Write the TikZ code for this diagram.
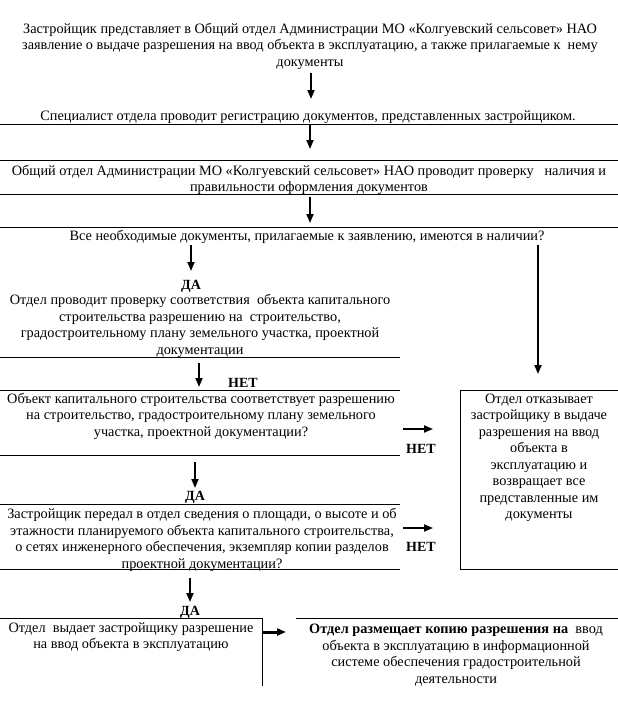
\documentclass[tikz,border=0pt]{standalone}
\usepackage{fontspec}
\setmainfont{Liberation Serif}
\usetikzlibrary{arrows.meta}
\begin{document}
\begin{tikzpicture}[x=1pt,y=-1pt,
  txt/.style={align=center,inner sep=0pt,font=\fontsize{14.3}{16.5}\selectfont},
  lbl/.style={inner sep=0pt,font=\fontsize{14}{16}\selectfont\bfseries},
  rule/.style={line width=1pt},
  arr/.style={line width=1.8pt,-{Triangle[length=9pt,width=7pt]}}]
\useasboundingbox (0,0) rectangle (618,718);
\fill[white] (0,0) rectangle (618,718);

% texts
\node[txt] (t1) at (310,46) {Застройщик представляет в Общий отдел Администрации МО «Колгуевский сельсовет» НАО\\
заявление о выдаче разрешения на ввод объекта в эксплуатацию, а также прилагаемые к~ нему\\
документы};
\node[txt] (t2) at (308,117) {Специалист отдела проводит регистрацию документов, представленных застройщиком.};
\node[txt] (t3) at (309,180) {Общий отдел Администрации МО «Колгуевский сельсовет» НАО проводит проверку~ ~наличия и\\
правильности оформления документов};
\node[txt] (t4) at (307,237) {Все необходимые документы, прилагаемые к заявлению, имеются в наличии?};
\node[lbl] (da1) at (191,286) {ДА};
\node[txt] (t5) at (200,326) {Отдел проводит проверку соответствия~ объекта капитального\\
строительства разрешению на~ строительство,\\
градостроительному плану земельного участка, проектной\\
документации};
\node[lbl] (net1) at (243,383) {НЕТ};
\node[txt] (t6) at (201,416) {Объект капитального строительства соответствует разрешению\\
на строительство, градостроительному плану земельного\\
участка, проектной документации?};
\node[lbl] (net2) at (421,449) {НЕТ};
\node[txt] (t7) at (539,458) {Отдел отказывает\\
застройщику в выдаче\\
разрешения на ввод\\
объекта в\\
эксплуатацию и\\
возвращает все\\
представленные им\\
документы};
\node[lbl] (da2) at (195,497) {ДА};
\node[txt] (t8) at (202,540) {Застройщик передал в отдел сведения о площади, о высоте и об\\
этажности планируемого объекта капитального строительства,\\
о сетях инженерного обеспечения, экземпляр копии разделов\\
проектной документации?};
\node[lbl] (net3) at (421,547) {НЕТ};
\node[lbl] (da3) at (190,612) {ДА};
\node[txt] (t9) at (131,637) {Отдел~ выдает застройщику разрешение\\
на ввод объекта в эксплуатацию};
\node[txt] (t10) at (456,655) {\textbf{Отдел размещает копию разрешения на}~ ввод\\
объекта в эксплуатацию в информационной\\
системе обеспечения градостроительной\\
деятельности};

% rules and box outlines
\draw[rule] (0,124) -- (618,124);
\draw[rule] (0,160) -- (618,160);
\draw[rule] (0,194) -- (618,194);
\draw[rule] (0,227) -- (618,227);
\draw[rule] (0,357) -- (400,357);
\draw[rule] (0,390.5) -- (400,390.5);
\draw[rule] (0,455) -- (400,455);
\draw[rule] (0,504) -- (400,504);
\draw[rule] (0,569) -- (400,569);
\draw[rule] (620,390.5) -- (460.5,390.5) -- (460.5,569) -- (620,569);
\draw[rule] (0,618) -- (262,618) -- (262,686);
\draw[rule] (296,618) -- (618,618);

% connector end points
\coordinate (a1s) at (311,73);  \coordinate (a1e) at (311,99);
\coordinate (a2s) at (310,125); \coordinate (a2e) at (310,149);
\coordinate (a3s) at (310,197); \coordinate (a3e) at (310,223);
\coordinate (a4s) at (191,245); \coordinate (a4e) at (191,271);
\coordinate (a5s) at (538,245); \coordinate (a5e) at (538,374);
\coordinate (a6s) at (199,363); \coordinate (a6e) at (199,387);
\coordinate (a7s) at (403,429); \coordinate (a7e) at (433,429);
\coordinate (a8s) at (195,462); \coordinate (a8e) at (195,488);
\coordinate (a9s) at (403,528); \coordinate (a9e) at (433,528);
\coordinate (a10s) at (190,578); \coordinate (a10e) at (190,602);
\coordinate (a11s) at (263,632); \coordinate (a11e) at (286,632);

\draw[arr] (a1s) -- (a1e);
\draw[arr] (a2s) -- (a2e);
\draw[arr] (a3s) -- (a3e);
\draw[arr] (a4s) -- (a4e);
\draw[arr] (a5s) -- (a5e);
\draw[arr] (a6s) -- (a6e);
\draw[arr] (a7s) -- (a7e);
\draw[arr] (a8s) -- (a8e);
\draw[arr] (a9s) -- (a9e);
\draw[arr] (a10s) -- (a10e);
\draw[arr,line width=3pt] (a11s) -- (a11e);
\end{tikzpicture}
\end{document}
